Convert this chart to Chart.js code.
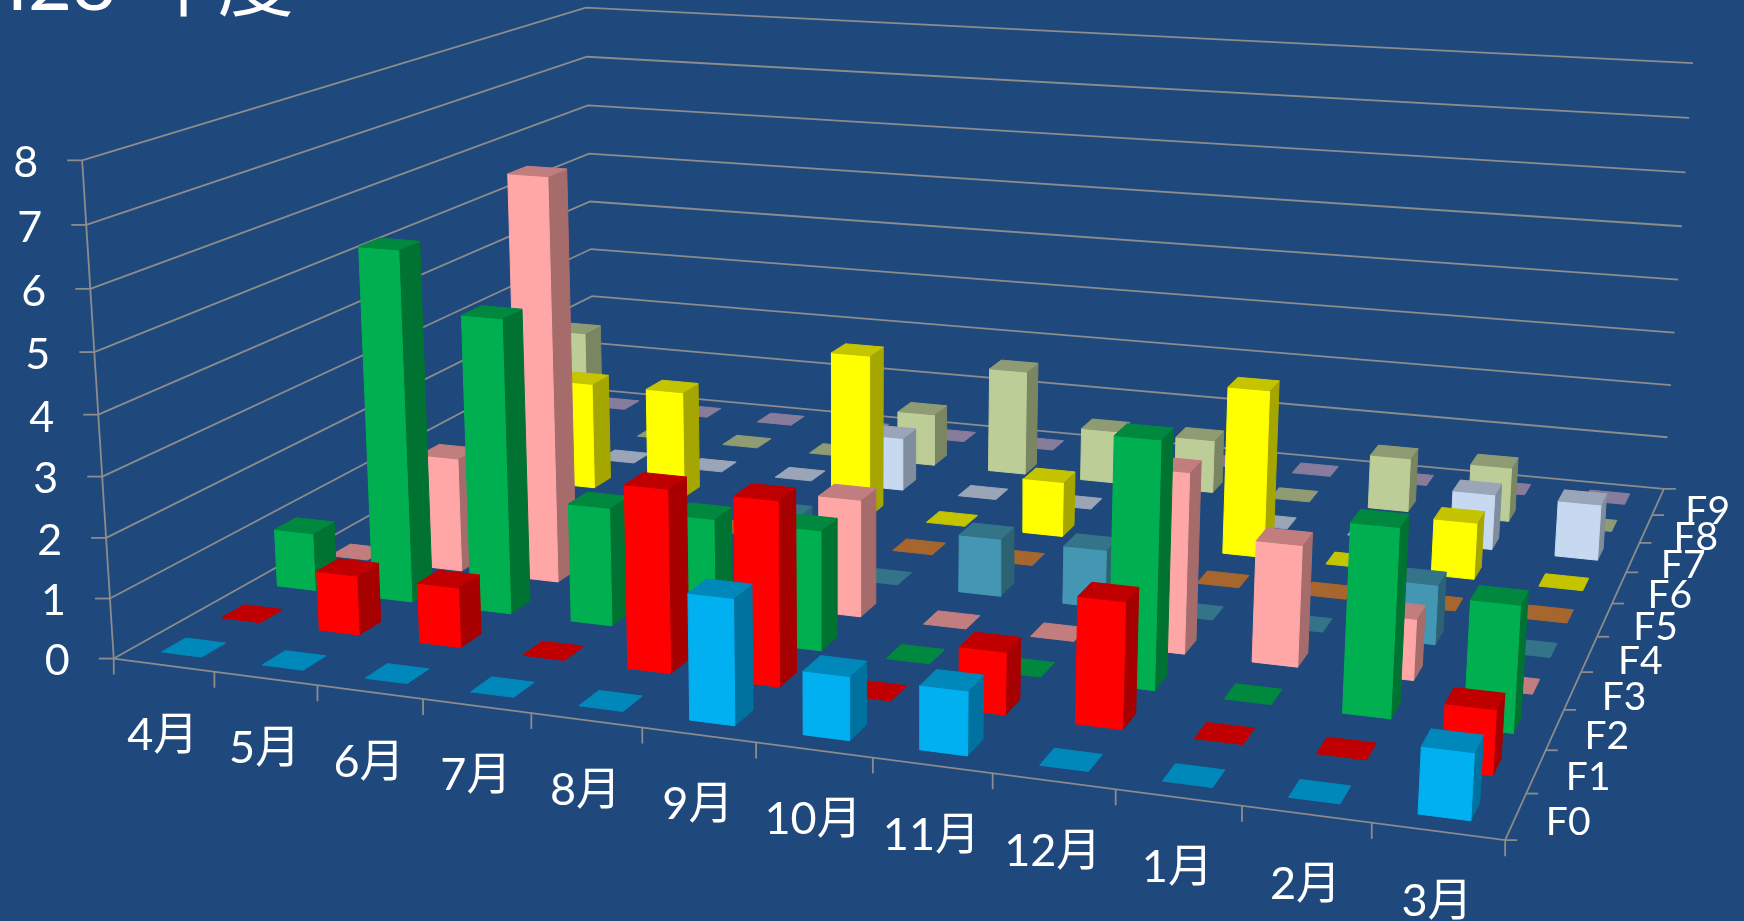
<!DOCTYPE html>
<html>
<head>
<meta charset="utf-8">
<title>H28 年度</title>
<script src="https://cdn.jsdelivr.net/npm/chart.js@4/dist/chart.umd.min.js"></script>
<style>
  html, body { margin: 0; padding: 0; background: #1F497D; overflow: hidden; }
  canvas { display: block; }
</style>
</head>
<body>
<canvas id="chart" width="1744" height="921"></canvas>
<script>
const months = ['4月', '5月', '6月', '7月', '8月', '9月', '10月', '11月', '12月', '1月', '2月', '3月'];
const seriesNames = ['F0', 'F1', 'F2', 'F3', 'F4', 'F5', 'F6', 'F7', 'F8', 'F9'];
const valueTicks = [0, 1, 2, 3, 4, 5, 6, 7, 8];

const f0 = [0, 0, 0, 0, 0, 2, 1, 1, 0, 0, 0, 1];
const f1 = [0, 1, 1, 0, 3, 3, 0, 1, 2, 0, 0, 1];
const f2 = [1, 6, 5, 2, 2, 2, 0, 0, 4, 0, 3, 2];
const f3 = [0, 2, 7, 0, 0, 2, 0, 0, 3, 2, 1, 0];
const f4 = [0, 0, 0, 0, 1, 0, 1, 1, 0, 0, 1, 0];
const f5 = [0, 0, 0, 0, 0, 0, 0, 0, 0, 0, 0, 0];
const f6 = [0, 2, 2, 0, 3, 0, 1, 0, 3, 0, 1, 0];
const f7 = [0, 0, 0, 0, 1, 0, 0, 0, 0, 0, 1, 1];
const f8 = [2, 0, 0, 0, 1, 2, 1, 1, 0, 1, 1, 0];
const f9 = [0, 0, 0, 0, 0, 0, 0, 0, 0, 0, 0, 0];
const seriesValues = [f0, f1, f2, f3, f4, f5, f6, f7, f8, f9];

// front, side, top shade per series
const seriesColors = [
  ['#00B0F0', '#0072A0', '#0088BA'],
  ['#FF0000', '#A60000', '#C00000'],
  ['#00B050', '#007232', '#00883E'],
  ['#FFA7A7', '#A66C6C', '#C27E7E'],
  ['#4397B2', '#2C6274', '#347489'],
  ['#D98543', '#8D572C', '#A6662E'],
  ['#FFFF00', '#A6A600', '#C4C400'],
  ['#C6D9F1', '#808D9D', '#9AA6B8'],
  ['#BCCD97', '#7A8562', '#8F9C73'],
  ['#B3A2C7', '#746981', '#887C9C']
];

const GRID_COLOR = '#8C8C8C';
const BAR_FROM = 0.295;
const BAR_TO = 0.695;

// axis box corners: month, series, value -> plane position
const boxCorners = [
  [0, 0, 0, 114, 659],
  [0, 0, 8, 82, 160],
  [12, 0, 0, 1505, 840],
  [0, 10, 0, 594, 389],
  [0, 10, 8, 586, 8],
  [12, 10, 0, 1664, 489],
  [12, 10, 8, 1693, 63]
];

// least squares fit of a 3x4 camera matrix through the box corners
function fitCamera(corners) {
  const rows = [];
  const rhs = [];
  corners.forEach(([x, y, z, u, v]) => {
    rows.push([x, y, z, 1, 0, 0, 0, 0, -u * x, -u * y, -u * z]);
    rhs.push(u);
    rows.push([0, 0, 0, 0, x, y, z, 1, -v * x, -v * y, -v * z]);
    rhs.push(v);
  });
  const n = 11;
  const a = [];
  for (let i = 0; i < n; i++) {
    a.push(new Array(n + 1).fill(0));
    for (let j = 0; j < n; j++) {
      rows.forEach((r) => { a[i][j] += r[i] * r[j]; });
    }
    rows.forEach((r, k) => { a[i][n] += r[i] * rhs[k]; });
  }
  for (let c = 0; c < n; c++) {
    let best = c;
    for (let r = c + 1; r < n; r++) {
      if (Math.abs(a[r][c]) > Math.abs(a[best][c])) best = r;
    }
    [a[c], a[best]] = [a[best], a[c]];
    for (let r = 0; r < n; r++) {
      if (r === c) continue;
      const f = a[r][c] / a[c][c];
      for (let k = c; k <= n; k++) a[r][k] -= f * a[c][k];
    }
  }
  return a.map((r, i) => r[n] / r[i]);
}

const cam = fitCamera(boxCorners);

function project(x, y, z) {
  const w = cam[8] * x + cam[9] * y + cam[10] * z + 1;
  return {
    x: (cam[0] * x + cam[1] * y + cam[2] * z + cam[3]) / w,
    y: (cam[4] * x + cam[5] * y + cam[6] * z + cam[7]) / w
  };
}

function face(points, color) {
  return {
    data: points.concat([points[0]]),
    showLine: true,
    fill: 'shape',
    backgroundColor: color,
    borderColor: color,
    borderWidth: 1,
    pointRadius: 0,
    clip: false
  };
}

function gridLine(points) {
  return {
    data: points,
    showLine: true,
    fill: false,
    borderColor: GRID_COLOR,
    borderWidth: 1.8,
    pointRadius: 0,
    clip: false
  };
}

function barFaces(month, series, value) {
  const [front, side, top] = seriesColors[series];
  const x0 = month + BAR_FROM, x1 = month + BAR_TO;
  const y0 = series + BAR_FROM, y1 = series + BAR_TO;
  const faces = [];
  if (value > 0) {
    faces.push(face([project(x1, y0, 0), project(x1, y1, 0), project(x1, y1, value), project(x1, y0, value)], side));
    faces.push(face([project(x0, y0, 0), project(x1, y0, 0), project(x1, y0, value), project(x0, y0, value)], front));
  }
  faces.push(face([project(x0, y0, value), project(x1, y0, value), project(x1, y1, value), project(x0, y1, value)], top));
  return faces;
}

// walls, floor edges and ticks go down first
const layers = [];
valueTicks.forEach((v) => {
  const a = project(0, 0, v), b = project(0, 10, v), c = project(12, 10, v);
  layers.push(gridLine([a, b, c]));
  layers.push(gridLine([{ x: a.x - 15, y: a.y }, a]));
});
layers.push(gridLine([project(0, 0, 0), project(0, 0, 8)]));
layers.push(gridLine([project(0, 0, 0), project(12, 0, 0), project(12, 10, 0)]));
months.concat(['']).forEach((m, i) => {
  const p = project(i, 0, 0);
  layers.push(gridLine([p, { x: p.x, y: p.y + 16 }]));
});
seriesNames.concat(['']).forEach((s, j) => {
  const p = project(12, j, 0);
  layers.push(gridLine([p, { x: p.x + 12, y: p.y }]));
});

// back row first, left to right inside a row
for (let s = seriesNames.length - 1; s >= 0; s--) {
  months.forEach((m, i) => {
    barFaces(i, s, seriesValues[s][i]).forEach((f) => layers.push(f));
  });
}

const axisText = {
  id: 'axisText',
  afterDraw(chart) {
    const { ctx, scales } = chart;
    const at = (p) => [scales.x.getPixelForValue(p.x), scales.y.getPixelForValue(p.y)];
    ctx.save();
    ctx.fillStyle = '#FFFFFF';
    ctx.textBaseline = 'middle';

    ctx.font = '43px Lato, "Noto Sans CJK JP"';
    ctx.textAlign = 'right';
    valueTicks.forEach((v) => {
      const [px, py] = at(project(0, 0, v));
      ctx.fillText(String(v), px - 44, py + 3);
    });

    ctx.font = '45px Lato, "Noto Sans CJK JP"';
    ctx.textAlign = 'center';
    months.forEach((m, i) => {
      const [px, py] = at(project(i + 0.5, 0, 0));
      ctx.fillText(m, px - 1, py + 70);
    });

    ctx.font = '39px Lato, "Noto Sans CJK JP"';
    ctx.textAlign = 'left';
    seriesNames.forEach((s, j) => {
      const [px, py] = at(project(12, j + 0.5, 0));
      ctx.fillText(s, px + 30 - j * 0.3, py + 6 + j * 0.35);
    });

    ctx.font = '76px Lato, "Noto Sans CJK JP"';
    ctx.textBaseline = 'alphabetic';
    ctx.wordSpacing = '6px';
    ctx.fillText('H28 年度', -30, 10);
    ctx.restore();
  }
};

new Chart(document.getElementById('chart'), {
  type: 'scatter',
  data: { datasets: layers.reverse() },
  plugins: [axisText],
  options: {
    responsive: false,
    animation: false,
    layout: { padding: 0 },
    plugins: { legend: { display: false }, tooltip: { enabled: false } },
    scales: {
      x: { type: 'linear', min: 0, max: 1744, display: false },
      y: { type: 'linear', min: 0, max: 921, reverse: true, display: false }
    }
  }
});
</script>
</body>
</html>
